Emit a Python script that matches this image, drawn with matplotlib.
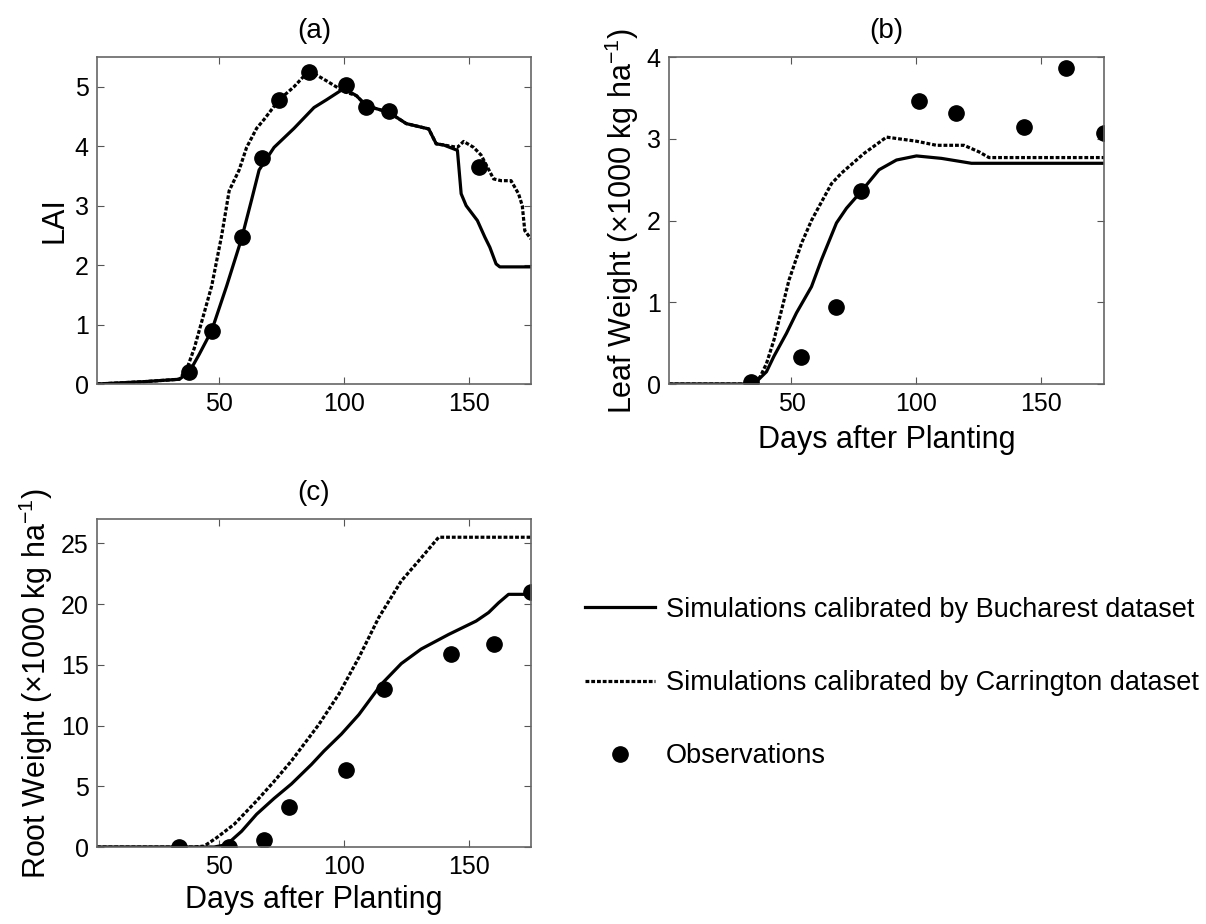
import matplotlib.pyplot as plt

plt.rcParams['font.family'] = ['Liberation Sans', 'DejaVu Sans']
plt.rcParams['mathtext.fontset'] = 'custom'
plt.rcParams['mathtext.rm'] = 'Liberation Sans'
plt.rcParams['mathtext.it'] = 'Liberation Sans'

# observation days (a) and (b)/(c)
obs_day_lai = [38, 47, 59, 67, 74, 86, 101, 109, 118, 154]
obs_lai = [0.2, 0.9, 2.47, 3.8, 4.78, 5.24, 5.03, 4.66, 4.6, 3.65]
obs_day_bio = [34, 54, 68, 78, 101, 116, 143, 160, 175]
obs_leaf = [0.02, 0.33, 0.94, 2.36, 3.46, 3.31, 3.14, 3.87, 3.07]
obs_root = [0.0, 0.03, 0.55, 3.3, 6.3, 13.0, 15.9, 16.7, 21.0]

# (a) LAI simulations
buc_lai_day = [1, 20, 34, 38, 42, 47, 53, 59, 63, 66, 72, 80, 88, 93, 100, 105, 109,
               118, 125, 134, 137, 140, 145.5, 147, 149, 153.5, 156.5, 158.5, 161, 162.5, 175]
buc_lai = [0, 0.04, 0.08, 0.2, 0.5, 0.9, 1.65, 2.45, 3.1, 3.6, 3.98, 4.3, 4.65, 4.78,
           4.97, 4.85, 4.68, 4.57, 4.38, 4.29, 4.04, 4.02, 3.93, 3.2, 3.0, 2.75, 2.47,
           2.3, 2.02, 1.97, 1.97]
car_lai_day = [1, 20, 34, 37, 40, 44, 47, 51, 54, 58, 61, 65, 68, 74, 80, 86, 93, 100,
               105, 109, 118, 125, 134, 137, 140, 145.5, 148, 152, 155, 160, 163, 167,
               170, 171.5, 172.5, 175]
car_lai = [0, 0.04, 0.08, 0.25, 0.6, 1.2, 1.65, 2.5, 3.25, 3.6, 3.98, 4.3, 4.45, 4.78,
           5.0, 5.27, 5.1, 4.92, 4.85, 4.68, 4.57, 4.38, 4.29, 4.04, 4.02, 3.98, 4.08,
           3.98, 3.85, 3.45, 3.42, 3.42, 3.2, 3.0, 2.58, 2.44]

# (b) leaf weight simulations (x1000 kg/ha)
buc_leaf_day = [1, 35, 40, 43, 48, 52, 58, 62, 68, 72, 78, 85, 92, 100, 110, 122, 175]
buc_leaf = [0, 0, 0.15, 0.34, 0.62, 0.87, 1.19, 1.52, 1.97, 2.15, 2.36, 2.62, 2.74,
            2.79, 2.76, 2.70, 2.70]
car_leaf_day = [1, 35, 37.5, 40, 43, 46, 49, 54, 58, 61, 66, 70, 79, 88, 100, 108, 119,
                125, 129, 175]
car_leaf = [0, 0, 0.09, 0.25, 0.54, 0.9, 1.27, 1.72, 2.0, 2.17, 2.45, 2.58, 2.82, 3.02,
            2.97, 2.92, 2.92, 2.84, 2.77, 2.77]

# (c) root weight simulations (x1000 kg/ha)
buc_root_day = [1, 48, 53, 59, 65, 72, 79, 87, 92, 99, 106, 115, 123, 131, 142, 153,
                158, 162, 166, 175]
buc_root = [0, 0, 0.2, 1.3, 2.7, 4.0, 5.2, 6.8, 7.9, 9.3, 10.9, 13.4, 15.1, 16.3, 17.5,
            18.6, 19.3, 20.1, 20.8, 20.8]
car_root_day = [1, 40, 44, 49, 56, 65, 72, 79, 90, 98, 106, 114, 123, 131, 138, 175]
car_root = [0, 0, 0.08, 0.77, 1.87, 3.8, 5.4, 7.1, 10.1, 12.6, 15.6, 18.9, 21.9, 23.8,
            25.5, 25.5]

dotted = (0, (1.2, 0.6))

fig = plt.figure(figsize=(12.06, 9.24), dpi=100)
ax_a = fig.add_axes([0.0804, 0.5844, 0.3599, 0.3539])
ax_b = fig.add_axes([0.5547, 0.5844, 0.3607, 0.3539])
ax_c = fig.add_axes([0.0804, 0.0833, 0.3599, 0.3550])


def panel(ax, d1, y1, d2, y2, od, oy, ylim, yticks, title):
    ax.plot(d1, y1, color='black', lw=2.3, label='Simulations calibrated by Bucharest dataset')
    ax.plot(d2, y2, color='black', lw=2.3, linestyle=dotted,
            label='Simulations calibrated by Carrington dataset')
    ax.plot(od, oy, 'o', color='black', ms=11, label='Observations')
    ax.set_xlim(1, 175)
    ax.set_ylim(*ylim)
    ax.set_xticks([50, 100, 150])
    ax.set_yticks(yticks)
    ax.tick_params(direction='in', top=True, right=True, labelsize=18, length=5,
                   color='#555555', pad=6)
    for s in ax.spines.values():
        s.set_color('#666666')
        s.set_linewidth(1.2)
    ax.set_title(title, fontsize=20, pad=14)


panel(ax_a, buc_lai_day, buc_lai, car_lai_day, car_lai, obs_day_lai, obs_lai,
      (0, 5.5), range(0, 6), '(a)')
ax_a.set_ylabel('LAI', fontsize=22)

panel(ax_b, buc_leaf_day, buc_leaf, car_leaf_day, car_leaf, obs_day_bio, obs_leaf,
      (0, 4), range(0, 5), '(b)')
ax_b.set_ylabel(r'Leaf Weight (×1000 kg ha$^{-1}$)', fontsize=22)
ax_b.set_xlabel('Days after Planting', fontsize=22, labelpad=6)

panel(ax_c, buc_root_day, buc_root, car_root_day, car_root, obs_day_bio, obs_root,
      (0, 27), range(0, 26, 5), '(c)')
ax_c.set_ylabel(r'Root Weight (×1000 kg ha$^{-1}$)', fontsize=22)
ax_c.set_xlabel('Days after Planting', fontsize=22, labelpad=4)

handles, labels = ax_c.get_legend_handles_labels()
fig.legend(handles, labels, loc='upper left', bbox_to_anchor=(0.476, 0.366),
           frameon=False, fontsize=19.5, handlelength=2.6, handletextpad=0.4,
           labelspacing=1.75, borderaxespad=0)

fig.savefig('out.png', dpi=100)
